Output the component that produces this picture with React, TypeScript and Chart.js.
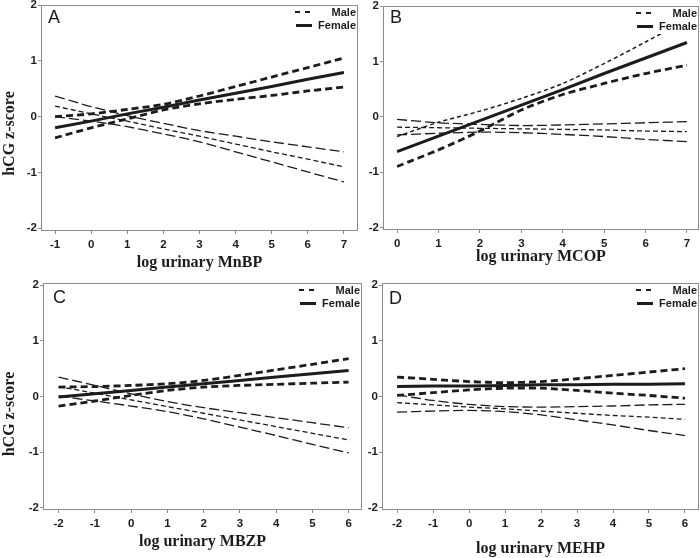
import React, { useEffect, useRef } from 'react';
import { Chart, registerables } from 'chart.js';

Chart.register(...registerables);

// ---------------- data ----------------
const legendLabels = ['Male', 'Female'];
const yTicks = [-2, -1, 0, 1, 2];

// Panel A: MnBP
const xA = [-1, 0, 1, 2, 3, 4, 5, 6, 7];
const maleA = [0.19, 0.05, -0.08, -0.22, -0.35, -0.49, -0.63, -0.76, -0.9];
const maleHiA = [0.37, 0.18, 0.02, -0.12, -0.25, -0.35, -0.45, -0.54, -0.63];
const maleLoA = [0.0, -0.08, -0.18, -0.31, -0.45, -0.63, -0.81, -0.99, -1.17];
const femaleA = [-0.2, -0.08, 0.05, 0.17, 0.3, 0.42, 0.54, 0.67, 0.79];
const femaleHiA = [0.0, 0.05, 0.13, 0.22, 0.37, 0.54, 0.71, 0.88, 1.05];
const femaleLoA = [-0.38, -0.2, -0.04, 0.12, 0.23, 0.31, 0.38, 0.46, 0.53];

// Panel B: MCOP
const xB = [0, 1, 2, 3, 4, 5, 6, 7];
const maleB = [-0.19, -0.2, -0.21, -0.22, -0.23, -0.24, -0.26, -0.27];
const maleHiB = [-0.05, -0.11, -0.14, -0.16, -0.15, -0.13, -0.11, -0.09];
const maleLoB = [-0.33, -0.3, -0.28, -0.29, -0.32, -0.36, -0.41, -0.45];
const femaleB = [-0.63, -0.35, -0.07, 0.21, 0.49, 0.78, 1.06, 1.34];
const femaleHiB = [-0.36, -0.1, 0.1, 0.33, 0.6, 0.96, 1.35, 1.75];
const femaleLoB = [-0.9, -0.6, -0.26, 0.12, 0.4, 0.6, 0.78, 0.93];

// Panel C: MBZP
const xC = [-2, -1, 0, 1, 2, 3, 4, 5, 6];
const maleC = [0.18, 0.06, -0.06, -0.18, -0.3, -0.42, -0.54, -0.66, -0.78];
const maleHiC = [0.35, 0.2, 0.05, -0.09, -0.2, -0.29, -0.38, -0.47, -0.56];
const maleLoC = [0.01, -0.08, -0.17, -0.27, -0.4, -0.55, -0.7, -0.86, -1.01];
const femaleC = [-0.01, 0.05, 0.11, 0.17, 0.23, 0.29, 0.35, 0.41, 0.47];
const femaleHiC = [0.17, 0.18, 0.2, 0.23, 0.29, 0.38, 0.48, 0.58, 0.68];
const femaleLoC = [-0.17, -0.08, 0.02, 0.11, 0.17, 0.2, 0.22, 0.24, 0.26];

// Panel D: MEHP
const xD = [-2, -1, 0, 1, 2, 3, 4, 5, 6];
const maleD = [-0.11, -0.15, -0.19, -0.22, -0.26, -0.3, -0.34, -0.37, -0.41];
const maleHiD = [0.03, -0.07, -0.14, -0.18, -0.19, -0.18, -0.17, -0.15, -0.14];
const maleLoD = [-0.28, -0.26, -0.25, -0.27, -0.33, -0.42, -0.51, -0.61, -0.7];
const femaleD = [0.18, 0.19, 0.19, 0.2, 0.21, 0.21, 0.22, 0.22, 0.23];
const femaleHiD = [0.35, 0.31, 0.27, 0.25, 0.27, 0.32, 0.38, 0.44, 0.5];
const femaleLoD = [0.02, 0.07, 0.12, 0.15, 0.15, 0.11, 0.06, 0.02, -0.03];

// ---------------- styling ----------------
const FONT_SANS = '"Liberation Sans", Arial, Helvetica, sans-serif';
const FONT_SERIF = '"Liberation Serif", "Times New Roman", Times, serif';
const INK = '#1c1c1c';
const FRAME = '#8c8c8c';

type PanelCfg = {
  letter: string;
  xTitle: string;
  xs: number[];
  male: number[]; maleHi: number[]; maleLo: number[];
  female: number[]; femaleHi: number[]; femaleLo: number[];
  femaleHiThin: boolean;
  left: number; top: number; w: number; h: number;
  padT: number; padR: number; yW: number; xH: number;
  xmin: number; xmax: number; ymin: number; ymax: number;
  xTitlePad: number;
  showYTitle: boolean; yTitleDy: number;
  letterDx: number; letterDy: number;
};

const panels: PanelCfg[] = [
  {
    letter: 'A', xTitle: 'log urinary MnBP', xs: xA,
    male: maleA, maleHi: maleHiA, maleLo: maleLoA,
    female: femaleA, femaleHi: femaleHiA, femaleLo: femaleLoA, femaleHiThin: false,
    left: 0, top: 0, w: 360, h: 279, padT: 5, padR: 2, yW: 41, xH: 49,
    xmin: -1.39, xmax: 7.39, ymin: -2.03, ymax: 2.0, xTitlePad: 8,
    showYTitle: true, yTitleDy: 16, letterDx: 7, letterDy: 18,
  },
  {
    letter: 'B', xTitle: 'log urinary MCOP', xs: xB,
    male: maleB, maleHi: maleHiB, maleLo: maleLoB,
    female: femaleB, femaleHi: femaleHiB, femaleLo: femaleLoB, femaleHiThin: true,
    left: 360, top: 0, w: 340, h: 279, padT: 6, padR: 1, yW: 23, xH: 50,
    xmin: -0.34, xmax: 7.29, ymin: -2.03, ymax: 2.0, xTitlePad: 14,
    showYTitle: false, yTitleDy: 0, letterDx: 7, letterDy: 17,
  },
  {
    letter: 'C', xTitle: 'log urinary MBZP', xs: xC,
    male: maleC, maleHi: maleHiC, maleLo: maleLoC,
    female: femaleC, femaleHi: femaleHiC, femaleLo: femaleLoC, femaleHiThin: false,
    left: 0, top: 279, w: 364, h: 279, padT: 4, padR: 2, yW: 43, xH: 49,
    xmin: -2.43, xmax: 6.37, ymin: -2.02, ymax: 2.04, xTitlePad: 8,
    showYTitle: true, yTitleDy: 18, letterDx: 10, letterDy: 20,
  },
  {
    letter: 'D', xTitle: 'log urinary MEHP', xs: xD,
    male: maleD, maleHi: maleHiD, maleLo: maleLoD,
    female: femaleD, femaleHi: femaleHiD, femaleLo: femaleLoD, femaleHiThin: false,
    left: 362, top: 279, w: 338, h: 279, padT: 4, padR: 1, yW: 20, xH: 49,
    xmin: -2.42, xmax: 6.39, ymin: -2.02, ymax: 2.04, xTitlePad: 1,
    showYTitle: false, yTitleDy: 0, letterDx: 7, letterDy: 21,
  },
];

function makeDatasets(p: PanelCfg) {
  const pts = (ys: number[]) => p.xs.map((x, i) => ({ x, y: ys[i] }));
  const base = { pointRadius: 0, fill: false, borderColor: INK, borderCapStyle: 'butt' as const };
  const fHiStyle = p.femaleHiThin
    ? { borderWidth: 1.5, borderDash: [4, 3] }
    : { borderWidth: 2.8, borderDash: [7, 4] };
  return [
    { ...base, label: 'Male upper', data: pts(p.maleHi), borderWidth: 1.3, borderDash: [10, 4], tension: 0.3 },
    { ...base, label: 'Male lower', data: pts(p.maleLo), borderWidth: 1.3, borderDash: [10, 4], tension: 0.3 },
    { ...base, label: legendLabels[0], data: pts(p.male), borderWidth: 1.3, borderDash: [5, 3], tension: 0 },
    { ...base, label: 'Female upper', data: pts(p.femaleHi), ...fHiStyle, tension: 0.3 },
    { ...base, label: 'Female lower', data: pts(p.femaleLo), borderWidth: 2.8, borderDash: [7, 4], tension: 0.3 },
    { ...base, label: legendLabels[1], data: pts(p.female), borderWidth: 3, tension: 0 },
  ];
}

function Panel({ p }: { p: PanelCfg }) {
  const ref = useRef<HTMLCanvasElement>(null);

  useEffect(() => {
    const canvas = ref.current;
    if (!canvas) return;

    const deco = {
      id: 'deco' + p.letter,
      afterDraw(chart: any) {
        const { ctx, chartArea } = chart;
        const { left, top, right, bottom } = chartArea;
        ctx.save();
        // white legend background
        ctx.fillStyle = '#ffffff';
        ctx.fillRect(right - 66, top + 1, 65, 27);
        // frame
        ctx.strokeStyle = FRAME;
        ctx.lineWidth = 1;
        ctx.setLineDash([]);
        ctx.strokeRect(Math.round(left) + 0.5, Math.round(top) + 0.5, Math.round(right - left) - 1, Math.round(bottom - top));
        // legend
        ctx.strokeStyle = INK;
        ctx.lineWidth = 1.8;
        ctx.setLineDash([5, 5]);
        ctx.beginPath();
        ctx.moveTo(right - 63, top + 7);
        ctx.lineTo(right - 48, top + 7);
        ctx.stroke();
        ctx.lineWidth = 3;
        ctx.setLineDash([]);
        ctx.beginPath();
        ctx.moveTo(right - 62, top + 20.5);
        ctx.lineTo(right - 46, top + 20.5);
        ctx.stroke();
        ctx.fillStyle = INK;
        ctx.font = `bold 11px ${FONT_SANS}`;
        ctx.textAlign = 'right';
        ctx.textBaseline = 'middle';
        ctx.fillText(legendLabels[0], right - 2, top + 8);
        ctx.fillText(legendLabels[1], right - 2, top + 21);
        // panel letter
        ctx.font = `18px ${FONT_SANS}`;
        ctx.textAlign = 'left';
        ctx.textBaseline = 'alphabetic';
        ctx.fillText(p.letter, left + p.letterDx, top + p.letterDy);
        // y title
        if (p.showYTitle) {
          ctx.translate(9.5, (top + bottom) / 2 + p.yTitleDy);
          ctx.rotate(-Math.PI / 2);
          ctx.font = `bold 16px ${FONT_SERIF}`;
          ctx.textAlign = 'center';
          ctx.textBaseline = 'middle';
          ctx.fillText('hCG z-score', 0, 0);
        }
        ctx.restore();
      },
    };

    const tickFont = { family: FONT_SANS, size: 11.5, weight: 'bold' as const };

    const chart = new Chart(canvas, {
      type: 'line',
      data: { datasets: makeDatasets(p) as any },
      options: {
        animation: false,
        responsive: false,
        maintainAspectRatio: false,
        layout: { padding: { left: 0, right: p.padR, top: p.padT, bottom: 0 } },
        plugins: { legend: { display: false }, tooltip: { enabled: false } },
        scales: {
          x: {
            type: 'linear',
            min: p.xmin,
            max: p.xmax,
            afterBuildTicks: (s: any) => { s.ticks = p.xs.map((v) => ({ value: v })); },
            afterFit: (s: any) => { s.height = p.xH; s.paddingLeft = 0; s.paddingRight = 0; },
            grid: { drawOnChartArea: false, drawTicks: true, tickLength: 4, color: FRAME },
            border: { display: false },
            ticks: { font: tickFont, color: INK, padding: 4, maxRotation: 0, autoSkip: false },
            title: {
              display: true,
              text: p.xTitle,
              color: INK,
              font: { family: FONT_SERIF, size: 16, weight: 'bold', lineHeight: 1 },
              padding: { top: 0, bottom: p.xTitlePad },
            },
          },
          y: {
            type: 'linear',
            min: p.ymin,
            max: p.ymax,
            afterBuildTicks: (s: any) => { s.ticks = yTicks.map((v) => ({ value: v })); },
            afterFit: (s: any) => { s.width = p.yW; s.paddingTop = 0; s.paddingBottom = 0; },
            grid: { drawOnChartArea: false, drawTicks: true, tickLength: 3, color: FRAME },
            border: { display: false },
            ticks: { font: tickFont, color: INK, padding: 1, autoSkip: false },
          },
        },
      },
      plugins: [deco],
    });

    return () => chart.destroy();
  }, [p]);

  return (
    <canvas
      ref={ref}
      width={p.w}
      height={p.h}
      style={{ position: 'absolute', left: p.left, top: p.top, width: p.w, height: p.h }}
    />
  );
}

export default function App() {
  return (
    <div style={{ position: 'absolute', left: 0, top: 0, width: 700, height: 558, background: '#ffffff', overflow: 'hidden' }}>
      {panels.map((p) => (
        <Panel key={p.letter} p={p} />
      ))}
    </div>
  );
}
